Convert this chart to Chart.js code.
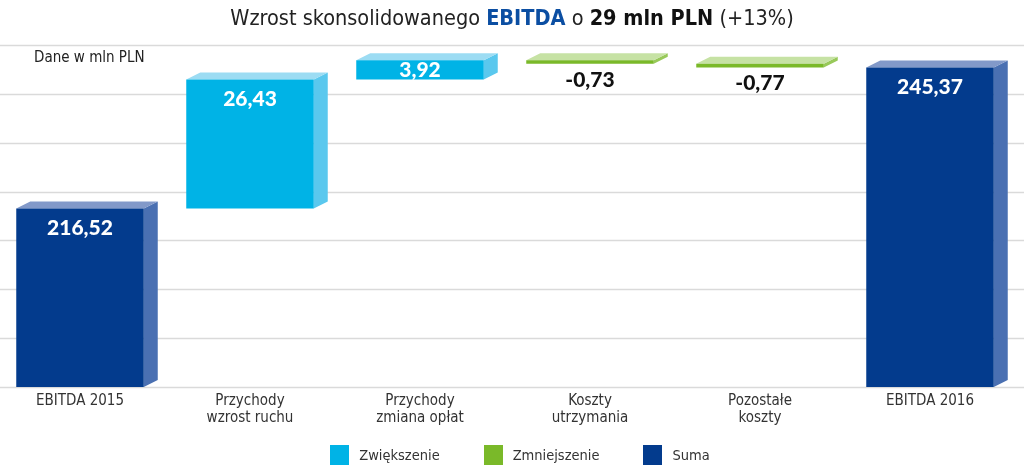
<!DOCTYPE html>
<html>
<head>
<meta charset="utf-8">
<script src="https://cdn.jsdelivr.net/npm/chart.js@4"></script>
<style>
  body { margin: 0; background: #fff; }
  #wrap { position: relative; width: 1024px; height: 469px; overflow: hidden; }
  #title {
    position: absolute; top: 5px; left: 0; width: 1024px; text-align: center;
    font-family: "Liberation Sans Narrow", "DejaVu Sans Condensed", sans-serif;
    font-size: 21.5px; color: #222;
  }
  #title .blue { color: #0b4ea2; font-weight: bold; }
  #title .bold { font-weight: bold; color: #111; }
  #unit {
    position: absolute; top: 48px; left: 34px;
    font-family: "Liberation Sans Narrow", "DejaVu Sans Condensed", sans-serif;
    font-size: 15px; color: #222;
  }
  #legend {
    position: absolute; top: 445px; left: 0; width: 1040px; text-align: center;
    font-family: "Liberation Sans Narrow", "DejaVu Sans Condensed", sans-serif;
    font-size: 14.5px; color: #333;
  }
  #legend .item { display: inline-block; margin: 0 22px; }
  #legend .box { display: inline-block; width: 19px; height: 20px; vertical-align: middle; margin-right: 10px; }
  #legend .txt { vertical-align: middle; }
</style>
</head>
<body>
<div id="wrap">
  <canvas id="chart" width="1024" height="469"></canvas>
  <div id="title">Wzrost skonsolidowanego <span class="blue">EBITDA</span> o <span class="bold">29 mln PLN</span> (+13%)</div>
  <div id="unit">Dane w mln PLN</div>
  <div id="legend"></div>
</div>
<script>
const categories = [['EBITDA 2015'], ['Przychody', 'wzrost ruchu'], ['Przychody', 'zmiana opłat'], ['Koszty', 'utrzymania'], ['Pozostałe', 'koszty'], ['EBITDA 2016']];
const values = [216.52, 26.43, 3.92, -0.73, -0.77, 245.37];
const kinds = ['sum', 'up', 'up', 'down', 'down', 'sum'];
const axisMin = 180, axisMax = 250, axisStep = 10;

const legendNames = { up: 'Zwiększenie', down: 'Zmniejszenie', sum: 'Suma' };
const colors = {
  up:   { front: '#00b3e6', side: '#5ac8ee', top: '#9cdcf3' },
  down: { front: '#7ab929', side: '#98c95a', top: '#c6e2a4' },
  sum:  { front: '#033b8d', side: '#4a70b2', top: '#8299c9' }
};

// floating ranges for the waterfall
let running = 0;
const ranges = values.map((v, i) => {
  if (kinds[i] === 'sum') { running = v; return [axisMin, v]; }
  const start = running;
  running = running + v;
  return [Math.min(start, running), Math.max(start, running)];
});

const fmt = v => v.toFixed(2).replace('.', ',');

// legend in html
const legendEl = document.getElementById('legend');
['up', 'down', 'sum'].forEach(k => {
  const it = document.createElement('span');
  it.className = 'item';
  it.innerHTML = '<span class="box" style="background:' + colors[k].front + '"></span><span class="txt">' + legendNames[k] + '</span>';
  legendEl.appendChild(it);
});

const DX = 14, DY = 7;

const depthPlugin = {
  id: 'depth',
  beforeDatasetsDraw(chart) {
    const ctx = chart.ctx;
    // gridlines across the full width
    const ys = chart.scales.y;
    ctx.save();
    ctx.strokeStyle = '#dadada';
    ctx.lineWidth = 1.5;
    ys.ticks.forEach(t => {
      const py = Math.round(ys.getPixelForValue(t.value)) + 0.5;
      ctx.beginPath();
      ctx.moveTo(0, py); ctx.lineTo(chart.width, py);
      ctx.stroke();
    });
    ctx.restore();
    chart.getDatasetMeta(0).data.forEach((bar, i) => {
      const c = colors[kinds[i]];
      const l = bar.x - bar.width / 2, r = bar.x + bar.width / 2;
      const t = Math.min(bar.y, bar.base), b = Math.max(bar.y, bar.base);
      ctx.save();
      ctx.fillStyle = c.side;
      ctx.beginPath();
      ctx.moveTo(r, t); ctx.lineTo(r + DX, t - DY); ctx.lineTo(r + DX, b - DY); ctx.lineTo(r, b);
      ctx.closePath(); ctx.fill();
      ctx.fillStyle = c.top;
      ctx.beginPath();
      ctx.moveTo(l, t); ctx.lineTo(l + DX, t - DY); ctx.lineTo(r + DX, t - DY); ctx.lineTo(r, t);
      ctx.closePath(); ctx.fill();
      ctx.restore();
    });
  },
  afterDatasetsDraw(chart) {
    const ctx = chart.ctx;
    ctx.save();
    ctx.font = '900 21px Lato, "DejaVu Sans", sans-serif';
    ctx.textAlign = 'center';
    ctx.textBaseline = 'middle';
    chart.getDatasetMeta(0).data.forEach((bar, i) => {
      const t = Math.min(bar.y, bar.base), b = Math.max(bar.y, bar.base);
      const label = fmt(values[i]);
      if (kinds[i] === 'down') {
        ctx.fillStyle = '#111';
        ctx.fillText(label, bar.x, b + 16);
      } else if (b - t < 40) {
        ctx.fillStyle = '#fff';
        ctx.fillText(label, bar.x, (t + b) / 2);
      } else {
        ctx.fillStyle = '#fff';
        ctx.fillText(label, bar.x, t + 20);
      }
    });
    ctx.restore();
  }
};

new Chart(document.getElementById('chart'), {
  type: 'bar',
  data: {
    labels: categories,
    datasets: [{
      data: ranges,
      backgroundColor: kinds.map(k => colors[k].front),
      borderWidth: 0,
      categoryPercentage: 1,
      barPercentage: 0.75,
      clip: false
    }]
  },
  options: {
    responsive: false,
    animation: false,
    layout: { padding: { top: 45, bottom: 30, left: 80, right: 94 } },
    plugins: { legend: { display: false }, tooltip: { enabled: false } },
    scales: {
      x: {
        offset: false,
        grid: { display: false },
        border: { display: false },
        ticks: {
          color: '#333', padding: -3, maxRotation: 0, autoSkip: false,
          font: { family: '"Liberation Sans Narrow", "DejaVu Sans Condensed", sans-serif', size: 15, lineHeight: 1.15 }
        },
        afterFit: s => { s.height = 52; }
      },
      y: {
        min: axisMin, max: axisMax,
        grid: { display: false },
        border: { display: false },
        ticks: { display: false, stepSize: axisStep },
        afterFit: s => { s.width = 0; }
      }
    }
  },
  plugins: [depthPlugin]
});
</script>
</body>
</html>
